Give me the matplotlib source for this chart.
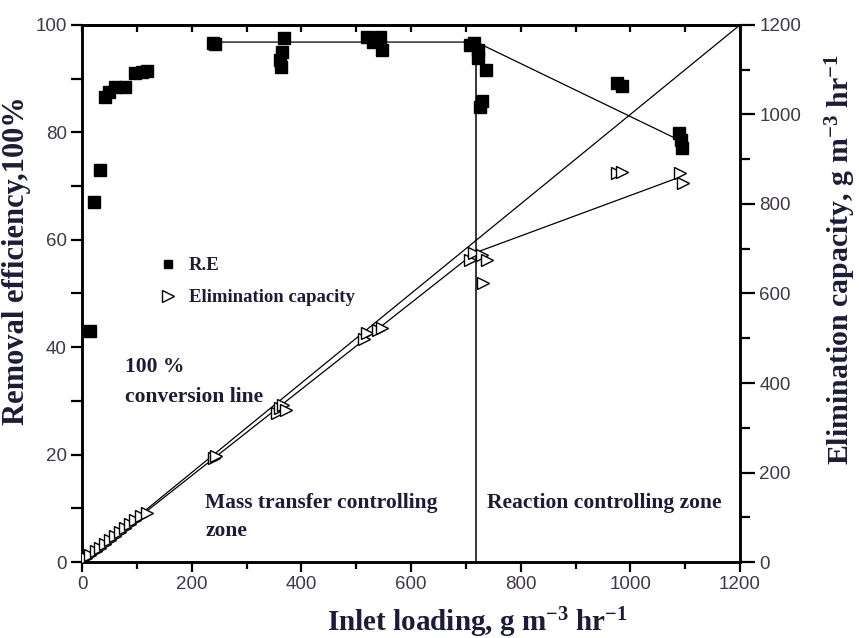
import matplotlib
matplotlib.use("Agg")
import matplotlib.pyplot as plt
from matplotlib.ticker import MultipleLocator

# removal efficiency (left axis, %)
re_x = [15, 22, 33, 42, 50, 60, 78, 97, 110, 118,
        239, 243, 361, 363, 365, 368,
        520, 531, 544, 547,
        708, 715, 723, 723, 737, 730, 726,
        976, 985, 1088, 1092, 1095]
re_y = [43, 67, 73, 86.6, 87.5, 88.5, 88.4, 91, 91.3, 91.5,
        96.6, 96.4, 93.5, 92.2, 95, 97.6,
        97.8, 96.9, 97.7, 95.3,
        96.3, 96.6, 95.3, 93.8, 91.6, 85.8, 84.7,
        89.2, 88.6, 79.9, 78.5, 77]

# elimination capacity (right axis, g m-3 hr-1)
ec_x = [8, 15, 25, 33, 42, 51, 60, 70, 78, 88, 97, 108, 118,
        240, 245, 355, 361, 366, 372,
        515, 520, 540, 547,
        708, 715, 730, 739, 731,
        976, 985, 1091, 1096]
ec_y = [8, 15, 24, 32, 41, 49, 58, 67, 76, 85, 93, 103, 109,
        232, 236, 334, 344, 352, 340,
        498, 512, 518, 523,
        675, 690, 686, 675, 623,
        869, 872, 869, 847]

# trend lines
re_line_x = [240, 719, 1090]
re_line_y = [96.8, 96.8, 78.5]
ec_line_x = [0, 715, 1086]
ec_line_y = [0, 690, 858]
conv_x = [0, 1200]
conv_y = [0, 1200]
zone_x = 719

ink = "#1c1b3a"
tick_col = "#403848"
serif = ["Liberation Serif", "DejaVu Serif"]

plt.rcParams["font.family"] = ["Liberation Sans", "DejaVu Sans"]
plt.rcParams["mathtext.fontset"] = "custom"
plt.rcParams["mathtext.rm"] = "Liberation Serif:bold"
plt.rcParams["mathtext.default"] = "rm"

fig = plt.figure(figsize=(8.59, 6.38), dpi=100)
ax = fig.add_axes([0.0955, 0.119, 0.766, 0.842])
ax2 = ax.twinx()

ax.set_xlim(0, 1200)
ax.set_ylim(0, 100)
ax2.set_ylim(0, 1200)

# lines
ax.plot(re_line_x, re_line_y, color="black", lw=0.9, zorder=2)
ax.plot([zone_x, zone_x], [0, 96.8], color="black", lw=1.1, zorder=2)
ax2.plot(conv_x, conv_y, color="black", lw=0.9, zorder=2)
ax2.plot(ec_line_x, ec_line_y, color="black", lw=0.9, zorder=2)

# points
ax.plot(re_x, re_y, "s", color="black", ms=8, ls="none", zorder=3)
ax2.plot(ec_x, ec_y, ">", mfc="white", mec="black", mew=1.0, ms=9,
         ls="none", zorder=3)

# legend drawn by hand
ax.plot([0.131], [0.555], "s", color="black", ms=6, transform=ax.transAxes)
ax.plot([0.131], [0.495], ">", mfc="white", mec="black", ms=8,
        transform=ax.transAxes)
ax.text(0.162, 0.553, "R.E", transform=ax.transAxes, family=serif,
        weight="bold", fontsize=13.5, color=ink, va="center")
ax.text(0.162, 0.493, "Elimination capacity", transform=ax.transAxes,
        family=serif, weight="bold", fontsize=13.5, color=ink, va="center")

# annotations
note = dict(transform=ax.transAxes, family=serif, weight="bold",
            fontsize=15.5, color=ink, va="center")
ax.text(0.066, 0.363, "100 %", **note)
ax.text(0.066, 0.307, "conversion line", **note)
ax.text(0.187, 0.110, "Mass transfer controlling", **note)
ax.text(0.187, 0.058, "zone", **note)
ax.text(0.615, 0.110, "Reaction controlling zone", **note)

# axes styling
for a in (ax, ax2):
    for s in a.spines.values():
        s.set_linewidth(1.8)

ax.xaxis.set_major_locator(MultipleLocator(200))
ax.xaxis.set_minor_locator(MultipleLocator(100))
ax.yaxis.set_major_locator(MultipleLocator(20))
ax.yaxis.set_minor_locator(MultipleLocator(10))
ax2.yaxis.set_major_locator(MultipleLocator(200))
ax2.yaxis.set_minor_locator(MultipleLocator(100))

ax.tick_params(axis="x", which="major", direction="out", length=7, width=1.6,
               labelsize=13.5, labelcolor=tick_col, pad=3)
ax.tick_params(axis="x", which="minor", direction="out", length=5, width=1.6)
ax.tick_params(axis="y", which="both", direction="out", length=8, width=1.6,
               labelsize=13.5, labelcolor=tick_col, pad=3)
ax2.tick_params(axis="y", which="major", direction="out", length=11,
                width=1.6, labelsize=13.5, labelcolor=tick_col, pad=3)
ax2.tick_params(axis="y", which="minor", direction="out", length=7, width=1.6)

top = ax.secondary_xaxis("top")
top.xaxis.set_major_locator(MultipleLocator(100))
top.tick_params(direction="in", length=5, width=1.6, labeltop=False)
top.spines["top"].set_linewidth(1.8)

ax.set_xlabel(r"Inlet loading, g m$^{-3}$ hr$^{-1}$", family=serif,
              weight="bold", fontsize=21, color=ink)
ax.xaxis.set_label_coords(0.6, -0.08)
ax.set_ylabel("Removal efficiency,100%", family=serif, weight="bold",
              fontsize=22, color=ink)
ax.yaxis.set_label_coords(-0.078, 0.562)
ax2.set_ylabel(r"Elimination capacity, g m$^{-3}$ hr$^{-1}$", family=serif,
               weight="bold", fontsize=21.5, color=ink, rotation=90)
ax2.yaxis.set_label_coords(1.127, 0.564)

fig.savefig("out.png", dpi=100)
